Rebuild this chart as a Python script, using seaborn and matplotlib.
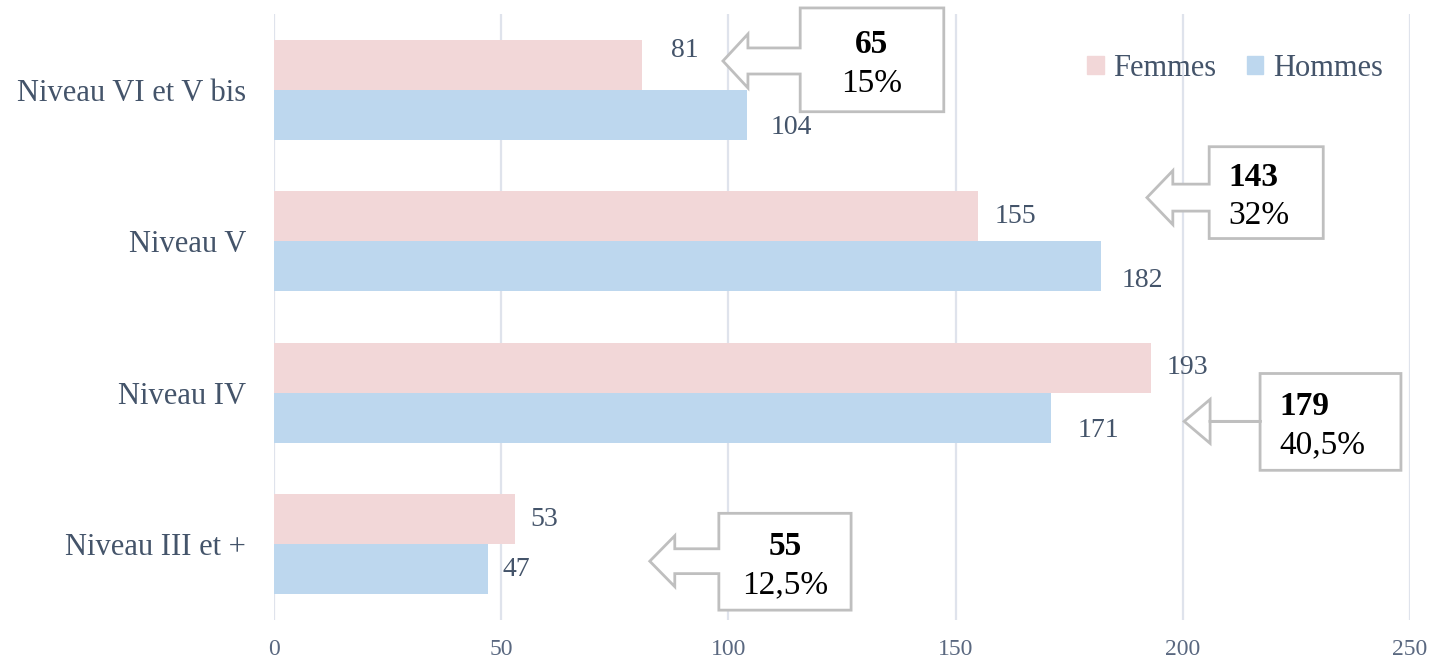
import pandas as pd
import seaborn as sns
import matplotlib.pyplot as plt
from matplotlib.patches import Polygon, Patch

# Données
niveaux = ["Niveau VI et V bis", "Niveau V", "Niveau IV", "Niveau III et +"]
femmes = [81, 155, 193, 53]
hommes = [104, 182, 171, 47]
totaux = [65, 143, 179, 55]
parts = ["15%", "32%", "40,5%", "12,5%"]

# Couleurs
rose = "#f2d7d8"
bleu = "#bdd7ee"
texte = "#44546a"
gris_cadre = "#bfbfbf"

df = pd.DataFrame({
    "niveau": niveaux * 2,
    "valeur": femmes + hommes,
    "sexe": ["Femmes"] * len(niveaux) + ["Hommes"] * len(niveaux),
})

sns.set_theme(style="white")
plt.rcParams["font.family"] = ["Liberation Serif", "DejaVu Serif"]

fig = plt.figure(figsize=(14.45, 6.64), dpi=100)
ax = fig.add_axes([0.1896, 0.0663, 0.7862, 0.9126])

sns.barplot(data=df, y="niveau", x="valeur", hue="sexe", orient="h",
            palette=[rose, bleu], width=0.66, saturation=1, linewidth=0,
            ax=ax, legend=False)

ax.set_xlim(0, 250)
ax.set_ylim(3.5, -0.5)
ax.set_xticks(range(0, 251, 50))
ax.grid(axis="x", color="#dfe3ec", linewidth=1.6)
ax.set_axisbelow(True)
for s in ax.spines.values():
    s.set_visible(False)
ax.set_xlabel("")
ax.set_ylabel("")
ax.tick_params(axis="x", length=0, labelsize=17, labelcolor="#5a6880", pad=14)
ax.tick_params(axis="y", length=0, labelsize=22, labelcolor=texte, pad=20)

# étiquettes des barres (décalages en points, pour éviter les cadres)
decalages = [
    [(21, 10), (12, 0), (11, 0), (11, 0)],      # Femmes
    [(17, -9), (15, -10), (19, -9), (11, 0)],   # Hommes
]
for cont, dec in zip(ax.containers, decalages):
    for barre, (dx, dy) in zip(cont, dec):
        ax.annotate(f"{barre.get_width():.0f}",
                    xy=(barre.get_width(), barre.get_y() + barre.get_height() / 2),
                    xytext=(dx, dy), textcoords="offset points",
                    ha="left", va="center", fontsize=20, color=texte)

# légende
handles = [Patch(color=rose, label="Femmes"), Patch(color=bleu, label="Hommes")]
ax.legend(handles=handles, ncol=2, frameon=False, loc="upper right",
          bbox_to_anchor=(1.0, 0.98), fontsize=22, labelcolor=texte,
          handlelength=0.55, handleheight=0.55, handletextpad=0.3, columnspacing=1.0)


# flèche avec cadre
def fleche(ax, tx, ty, g, d, h, b, lt, ht, hc):
    pts = [(g, h), (d, h), (d, b), (g, b), (g, ty + hc), (tx + lt, ty + hc),
           (tx + lt, ty + ht), (tx, ty), (tx + lt, ty - ht), (tx + lt, ty - hc), (g, ty - hc)]
    ax.add_patch(Polygon(pts, closed=True, facecolor="white", edgecolor=gris_cadre,
                         linewidth=2, clip_on=False, zorder=5))


# pointe x, pointe y, gauche, droite, haut, bas, long. tête, demi-tête, demi-corps, alignement
cadres = [
    (98.8, -0.19, 115.8, 147.4, -0.54, 0.145, 5.5, 0.178, 0.086, "center"),
    (192.1, 0.712, 205.8, 230.9, 0.376, 0.982, 5.7, 0.178, 0.089, "left"),
    (200.3, 2.189, 217.0, 248.0, 1.873, 2.512, 5.7, 0.145, 0.0, "left"),
    (82.7, 3.112, 97.9, 127.0, 2.796, 3.435, 5.5, 0.168, 0.082, "center"),
]
for i, (tx, ty, g, d, h, b, lt, ht, hc, al) in enumerate(cadres):
    fleche(ax, tx, ty, g, d, h, b, lt, ht, hc)
    xt = (g + d) / 2 if al == "center" else g + 4.2
    ym = (h + b) / 2
    ax.text(xt, ym - 0.1, str(totaux[i]), ha=al, va="center", fontsize=24,
            fontweight="bold", color="black", zorder=6)
    ax.text(xt, ym + 0.155, parts[i], ha=al, va="center", fontsize=24,
            color="black", zorder=6)

fig.savefig("out.png", dpi=100)
